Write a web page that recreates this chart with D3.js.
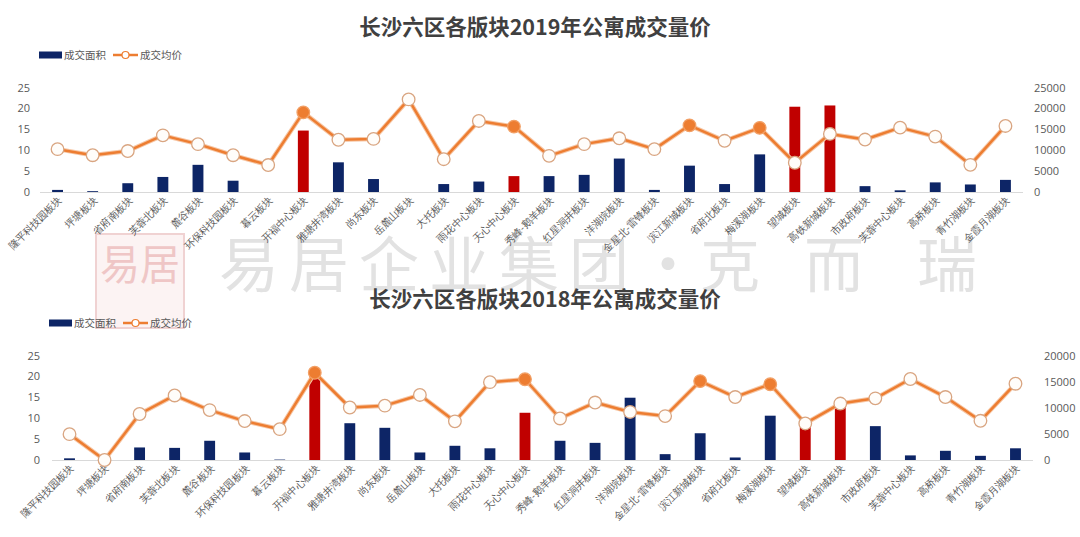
<!DOCTYPE html>
<html><head><meta charset="utf-8">
<script src="https://cdn.jsdelivr.net/npm/d3@7"></script>
<style>
html,body{margin:0;padding:0;background:#fff;}
svg{display:block;font-family:"Noto Sans CJK SC","Noto Sans",sans-serif;}
</style></head>
<body>
<svg id="c" width="1080" height="537"></svg>
<script>
const categories = ['隆平科技园板块','坪塘板块','省府南板块','芙蓉北板块','麓谷板块','环保科技园板块','暮云板块','开福中心板块','雅塘井湾板块','尚东板块','岳麓山板块','大托板块','雨花中心板块','天心中心板块','秀峰-鹅羊板块','红星洞井板块','洋湖垸板块','金星北-雷锋板块','滨江新城板块','省府北板块','梅溪湖板块','望城板块','高铁新城板块','市政府板块','芙蓉中心板块','高桥板块','青竹湖板块','金霞月湖板块'];
const area2019 = [0.5,0.2,2.1,3.6,6.5,2.7,0,14.7,7.1,3.1,0,1.9,2.5,3.8,3.8,4.1,8.0,0.5,6.3,1.9,9.0,20.4,20.7,1.4,0.4,2.3,1.8,2.9];
const price2019 = [10250,8800,9800,13550,11450,8800,6450,19050,12500,12700,22150,7850,17000,15650,8650,11450,12850,10250,15950,12250,15350,7000,13900,12550,15400,13250,6500,15800];
const area2018 = [0.4,0,3.0,2.9,4.6,1.8,0.1,20.0,8.8,7.7,1.8,3.4,2.8,11.3,4.6,4.1,14.9,1.4,6.4,0.6,10.6,8.5,13.0,8.1,1.1,2.2,1.0,2.8];
const price2018 = [4950,0,8800,12350,9550,7450,5900,16700,10050,10400,12450,7400,14900,15450,7950,11000,9200,8400,15100,12050,14500,7000,10800,11800,15500,12050,7500,14600];
const leftTicks = [0,5,10,15,20,25];
const rightTicks2019 = [0,5000,10000,15000,20000,25000];
const rightTicks2018 = [0,5000,10000,15000,20000];
const legendNames = ['成交面积','成交均价'];
const titles = ['长沙六区各版块2019年公寓成交量价','长沙六区各版块2018年公寓成交量价'];
const redBars = ['开福中心板块','天心中心板块','望城板块','高铁新城板块'];
const filledMarkers = ['开福中心板块','天心中心板块','滨江新城板块','梅溪湖板块'];
const watermark = ['易居企业集团','·','克','而','瑞'];

const NAVY='#0d2566', RED='#c00000', ORANGE='#ed7d31', GRAY='#595959';
const svg = d3.select('#c');

// watermark
const wm = svg.append('g').attr('fill','#e2e2e2').style('font-family','"Noto Sans CJK SC",sans-serif');
wm.append('rect').attr('x',96).attr('y',234).attr('width',88).attr('height',94).attr('fill','#fcf3f3').attr('stroke','#f0d2d2').attr('stroke-width',2);
wm.append('text').attr('x',140).attr('y',280).attr('text-anchor','middle').attr('font-size',42).attr('fill','#efc6c6').text('易居').attr('textLength',80).attr('lengthAdjust','spacingAndGlyphs');
wm.append('text').attr('x',219).attr('y',287).attr('font-size',60).attr('letter-spacing',10).text(watermark[0]);
wm.append('text').attr('x',668).attr('y',287).attr('font-size',60).attr('text-anchor','middle').text(watermark[1]);
[[730,watermark[2]],[834,watermark[3]],[947,watermark[4]]].forEach(d=>{
  wm.append('text').attr('x',d[0]).attr('y',287).attr('font-size',60).attr('text-anchor','middle').text(d[1]);
});

function chart(cfg){
  const g = svg.append('g');
  const x = d3.scaleBand().domain(categories).range([cfg.x0,cfg.x1]).paddingInner(0.69).paddingOuter(0.345);
  const yL = d3.scaleLinear().domain([0,25]).range([cfg.yBase,cfg.yTop]);
  const yR = d3.scaleLinear().domain([0,cfg.rMax]).range([cfg.yBase,cfg.yTop]);
  // title
  g.append('text').attr('x',cfg.titleX).attr('y',cfg.titleY).attr('text-anchor','middle')
    .attr('font-size',cfg.titleSize).attr('font-weight','bold').attr('fill','#404040').text(cfg.title);
  // legend
  const lg = g.append('g').attr('transform',`translate(${cfg.legX},${cfg.legY})`).attr('font-size',10.5).attr('fill',GRAY);
  lg.append('rect').attr('x',0).attr('y',-3.5).attr('width',23).attr('height',7).attr('fill',NAVY);
  lg.append('text').attr('x',25).attr('y',4).text(legendNames[0]);
  lg.append('line').attr('x1',74).attr('x2',99).attr('y1',0).attr('y2',0).attr('stroke',ORANGE).attr('stroke-width',2.5);
  lg.append('circle').attr('cx',86.5).attr('cy',0).attr('r',3.5).attr('fill','#fff').attr('stroke',ORANGE).attr('stroke-width',1.2);
  lg.append('text').attr('x',101).attr('y',4).text(legendNames[1]);
  // axes
  const axL = d3.axisLeft(yL).tickValues(leftTicks).tickSize(0).tickPadding(0);
  const gl = g.append('g').attr('transform',`translate(${cfg.leftLabelX},0)`).call(axL);
  gl.select('.domain').remove();
  gl.selectAll('text').attr('fill',GRAY).attr('font-size',11).style('font-family','"Open Sans","Noto Sans",sans-serif');
  const axR = d3.axisRight(yR).tickValues(cfg.rTicks).tickFormat(d3.format('d')).tickSize(0).tickPadding(0);
  const gr = g.append('g').attr('transform',`translate(${cfg.rightLabelX},0)`).call(axR);
  gr.select('.domain').remove();
  gr.selectAll('text').attr('fill',GRAY).attr('font-size',11).style('font-family','"Open Sans","Noto Sans",sans-serif');
  // baseline
  g.append('line').attr('x1',cfg.x0).attr('x2',cfg.x1).attr('y1',cfg.yBase+0.5).attr('y2',cfg.yBase+0.5).attr('stroke','#d9d9d9').attr('stroke-width',1);
  // x labels
  const ax = d3.axisBottom(x).tickSize(0).tickPadding(0);
  const gx = g.append('g').attr('transform',`translate(0,${cfg.yBase})`).call(ax);
  gx.select('.domain').remove();
  gx.selectAll('text').attr('fill',GRAY).attr('font-size',10.2).attr('text-anchor','end')
    .attr('dy',null).attr('y',0)
    .attr('transform','translate(5,9) rotate(-45)');
  // bars
  g.selectAll('rect.bar').data(cfg.area).enter().append('rect').attr('class','bar')
    .attr('x',(d,i)=>x(categories[i])).attr('width',x.bandwidth())
    .attr('y',d=>yL(d)).attr('height',d=>cfg.yBase-yL(d))
    .attr('fill',(d,i)=>redBars.includes(categories[i])?RED:NAVY);
  // line
  const cx = i => x(categories[i])+x.bandwidth()/2;
  const line = d3.line().x((d,i)=>cx(i)).y(d=>yR(d));
  g.append('path').datum(cfg.price).attr('d',line).attr('fill','none').attr('stroke','#f6c7a6').attr('stroke-width',4.5).attr('stroke-linejoin','round');
  g.append('path').datum(cfg.price).attr('d',line).attr('fill','none').attr('stroke',ORANGE).attr('stroke-width',2.5).attr('stroke-linejoin','round');
  g.selectAll('circle.m').data(cfg.price).enter().append('circle').attr('class','m')
    .attr('cx',(d,i)=>cx(i)).attr('cy',d=>yR(d)).attr('r',6.3)
    .attr('fill',(d,i)=>filledMarkers.includes(categories[i])?ORANGE:'#fffdfa')
    .attr('stroke',(d,i)=>filledMarkers.includes(categories[i])?'#f2a066':'#d9a581').attr('stroke-width',1.3);
}

chart({title:titles[0],titleX:535,titleY:35,titleSize:21.5,legX:39,legY:55,
  x0:40,x1:1023,yBase:192,yTop:87.5,rMax:25000,rTicks:rightTicks2019,
  leftLabelX:30,rightLabelX:1034,area:area2019,price:price2019});
chart({title:titles[1],titleX:545,titleY:307,titleSize:21.5,legX:49,legY:323,
  x0:52,x1:1033,yBase:460,yTop:355.5,rMax:20000,rTicks:rightTicks2018,
  leftLabelX:40,rightLabelX:1044,area:area2018,price:price2018});
</script>
</body></html>
